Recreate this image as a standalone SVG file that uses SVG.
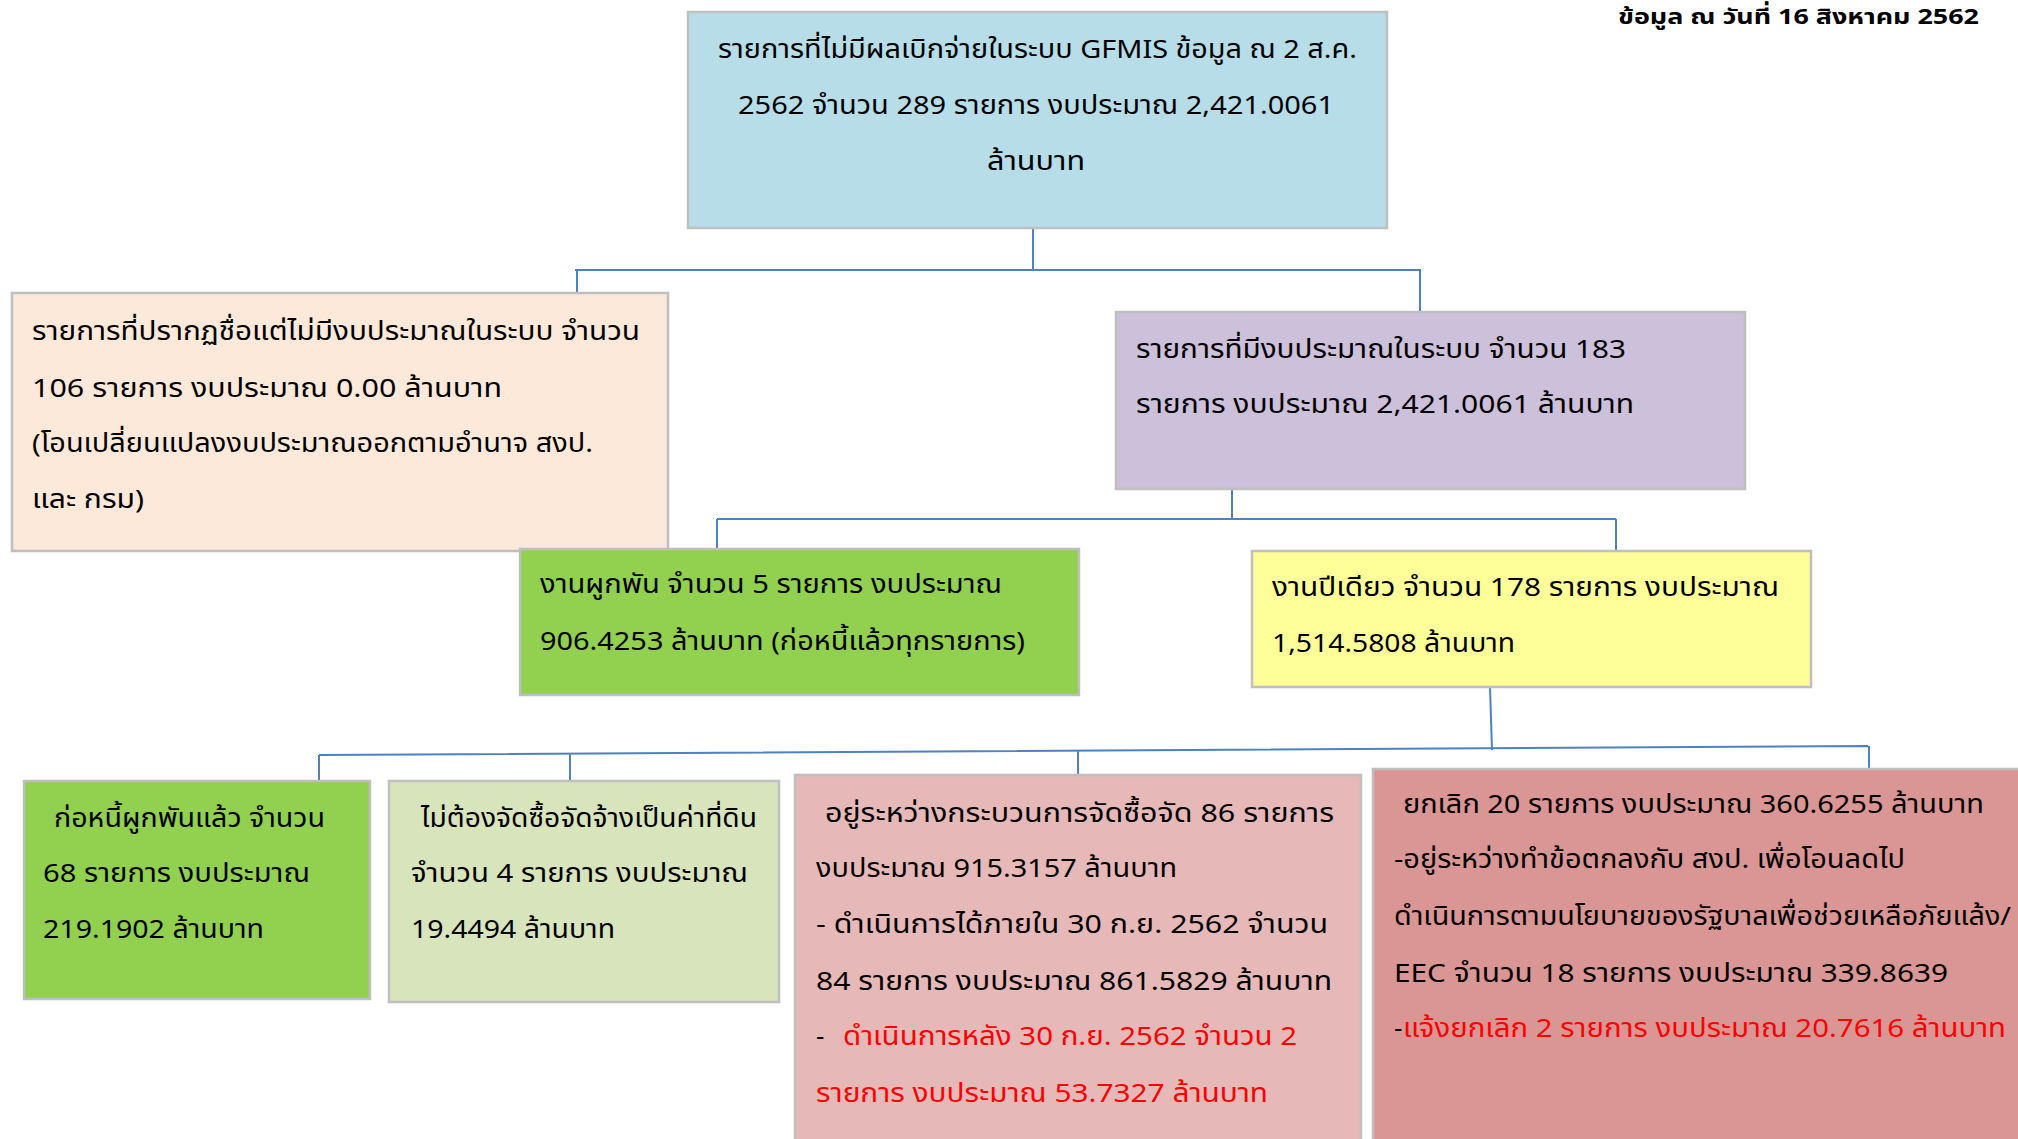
<svg xmlns="http://www.w3.org/2000/svg" width="2018" height="1139" viewBox="0 0 2018 1139">
<style>
text{font-family:"Noto Sans Thai","Noto Sans","DejaVu Sans",sans-serif;font-size:26px;fill:#000}
.c{fill:none;stroke:#4f81bd;stroke-width:2}
.b{stroke:#bfbfbf;stroke-width:2.5}
.r{fill:#ff0000}
.h{font-weight:bold;font-size:22px}
</style>
<rect x="0" y="0" width="2018" height="1139" fill="#ffffff"/>
<text class="h" x="1618" y="24" textLength="361" lengthAdjust="spacingAndGlyphs">ข้อมูล  ณ  วันที่ 16 สิงหาคม 2562</text>
<g id="connectors">
<path class="c" d="M1033 228 V270 M575 270 H1421 M577 270 V293 M1420 270 V312"/>
<path class="c" d="M1232 489 V519 M717 519 H1616 M717 519 V550 M1616 519 V552"/>
<path class="c" d="M1490 687 L1492 750 M319 755 L1868 746 M319 755 V781 M570 754 V781 M1078 751 V775 M1869 746 V769"/>
</g>
<g id="n_top">
<rect class="b" x="688" y="12" width="699" height="216" fill="#b7dde8"/>
<text x="718" y="58" textLength="639" lengthAdjust="spacingAndGlyphs">รายการที่ไม่มีผลเบิกจ่ายในระบบ GFMIS ข้อมูล ณ 2 ส.ค.</text>
<text x="738" y="114" textLength="596" lengthAdjust="spacingAndGlyphs">2562 จำนวน  289 รายการ งบประมาณ 2,421.0061</text>
<text x="987" y="170" textLength="98" lengthAdjust="spacingAndGlyphs">ล้านบาท</text>
</g>
<g id="n_left">
<rect class="b" x="12" y="293" width="656" height="258" fill="#fde9d9"/>
<text x="32" y="340" textLength="608" lengthAdjust="spacingAndGlyphs">รายการที่ปรากฏชื่อแต่ไม่มีงบประมาณในระบบ จำนวน</text>
<text x="32" y="397" textLength="470" lengthAdjust="spacingAndGlyphs">106  รายการ งบประมาณ 0.00  ล้านบาท</text>
<text x="32" y="452" textLength="561" lengthAdjust="spacingAndGlyphs">(โอนเปลี่ยนแปลงงบประมาณออกตามอำนาจ สงป.</text>
<text x="32" y="508" textLength="112" lengthAdjust="spacingAndGlyphs">และ กรม)</text>
</g>
<g id="n_budget">
<rect class="b" x="1116" y="312" width="629" height="177" fill="#ccc0da"/>
<text x="1136" y="358" textLength="490" lengthAdjust="spacingAndGlyphs">รายการที่มีงบประมาณในระบบ จำนวน 183</text>
<text x="1136" y="413" textLength="498" lengthAdjust="spacingAndGlyphs">รายการ  งบประมาณ 2,421.0061  ล้านบาท</text>
</g>
<g id="n_commit">
<rect class="b" x="520" y="549" width="559" height="146" fill="#92d050"/>
<text x="540" y="593" textLength="462" lengthAdjust="spacingAndGlyphs">งานผูกพัน จำนวน 5 รายการ งบประมาณ</text>
<text x="540" y="650" textLength="485" lengthAdjust="spacingAndGlyphs">906.4253 ล้านบาท (ก่อหนี้แล้วทุกรายการ)</text>
</g>
<g id="n_year">
<rect class="b" x="1252" y="551" width="559" height="136" fill="#ffff99"/>
<text x="1272" y="596" textLength="507" lengthAdjust="spacingAndGlyphs">งานปีเดียว จำนวน 178  รายการ งบประมาณ</text>
<text x="1272" y="652" textLength="243" lengthAdjust="spacingAndGlyphs">1,514.5808 ล้านบาท</text>
</g>
<g id="n_debt">
<rect class="b" x="24" y="781" width="346" height="218" fill="#92d050"/>
<text x="54" y="827" textLength="271" lengthAdjust="spacingAndGlyphs">ก่อหนี้ผูกพันแล้ว จำนวน</text>
<text x="43" y="882" textLength="267" lengthAdjust="spacingAndGlyphs">68 รายการ งบประมาณ</text>
<text x="43" y="938" textLength="221" lengthAdjust="spacingAndGlyphs">219.1902 ล้านบาท</text>
</g>
<g id="n_land">
<rect class="b" x="389" y="781" width="390" height="221" fill="#d8e4bc"/>
<text x="421" y="827" textLength="336" lengthAdjust="spacingAndGlyphs">ไม่ต้องจัดซื้อจัดจ้างเป็นค่าที่ดิน</text>
<text x="411" y="882" textLength="337" lengthAdjust="spacingAndGlyphs">จำนวน 4 รายการ งบประมาณ</text>
<text x="411" y="938" textLength="204" lengthAdjust="spacingAndGlyphs">19.4494 ล้านบาท</text>
</g>
<g id="n_proc">
<rect class="b" x="795" y="775" width="566" height="380" fill="#e6b9b8"/>
<text x="825" y="822" textLength="509" lengthAdjust="spacingAndGlyphs">อยู่ระหว่างกระบวนการจัดซื้อจัด  86  รายการ</text>
<text x="816" y="877" textLength="361" lengthAdjust="spacingAndGlyphs">งบประมาณ 915.3157 ล้านบาท</text>
<text x="816" y="933" textLength="512" lengthAdjust="spacingAndGlyphs">- ดำเนินการได้ภายใน  30 ก.ย. 2562  จำนวน</text>
<text x="816" y="990" textLength="516" lengthAdjust="spacingAndGlyphs">84 รายการ งบประมาณ  861.5829  ล้านบาท</text>
<text x="816" y="1045">-</text>
<text class="r" x="843" y="1045" textLength="454" lengthAdjust="spacingAndGlyphs">ดำเนินการหลัง 30 ก.ย. 2562  จำนวน 2</text>
<text class="r" x="816" y="1102" textLength="452" lengthAdjust="spacingAndGlyphs">รายการ  งบประมาณ 53.7327 ล้านบาท</text>
</g>
<g id="n_cancel">
<rect class="b" x="1373" y="769" width="660" height="390" fill="#da9694"/>
<text x="1403" y="813" textLength="581" lengthAdjust="spacingAndGlyphs">ยกเลิก 20 รายการ งบประมาณ 360.6255 ล้านบาท</text>
<text x="1394" y="868" textLength="511" lengthAdjust="spacingAndGlyphs">-อยู่ระหว่างทำข้อตกลงกับ สงป. เพื่อโอนลดไป</text>
<text x="1394" y="925" textLength="617" lengthAdjust="spacingAndGlyphs">ดำเนินการตามนโยบายของรัฐบาลเพื่อช่วยเหลือภัยแล้ง/</text>
<text x="1394" y="982" textLength="554" lengthAdjust="spacingAndGlyphs">EEC  จำนวน  18 รายการ งบประมาณ 339.8639</text>
<text x="1394" y="1037">-</text>
<text class="r" x="1403" y="1037" textLength="603" lengthAdjust="spacingAndGlyphs">แจ้งยกเลิก 2 รายการ งบประมาณ 20.7616  ล้านบาท</text>
</g>
</svg>
